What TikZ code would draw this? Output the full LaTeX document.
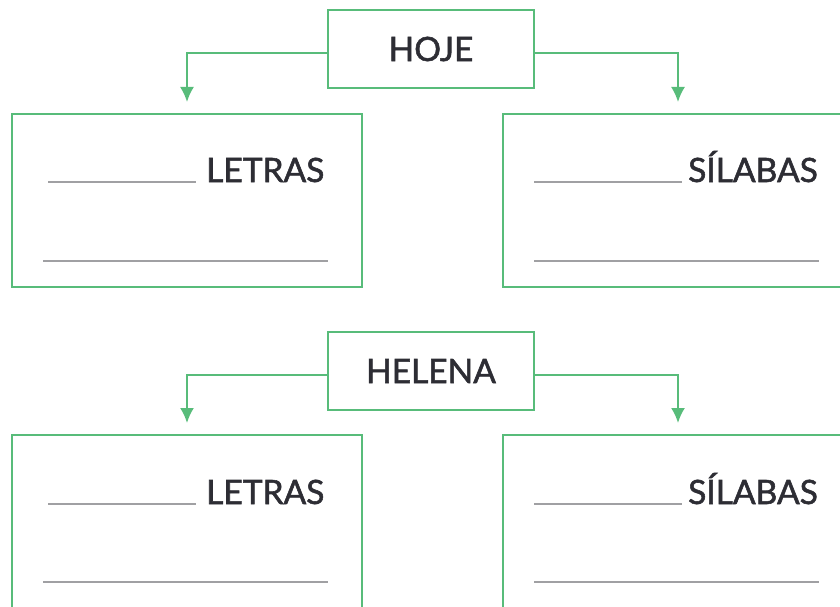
\documentclass[tikz,border=0pt]{standalone}
\usepackage{fontspec}
\setmainfont{Lato}
\newfontfamily\wordfont{Lato}[FakeBold=1.6]
\usepackage{tikz}
\usetikzlibrary{arrows.meta}
\usetikzlibrary{positioning,calc}
\definecolor{boxgreen}{RGB}{88,188,122}
\definecolor{blankgray}{RGB}{160,160,163}
\definecolor{wordgray}{RGB}{45,45,52}

\begin{document}
\begin{tikzpicture}[x=1pt, y=-1pt,
		wordbox/.style={draw=boxgreen, line width=2pt, minimum width=206pt, minimum height=78pt, inner sep=0pt, text=wordgray, font=\wordfont\fontsize{33.5}{33.5}\selectfont},
		answerbox/.style={draw=boxgreen, line width=2pt, minimum width=350pt, minimum height=173pt, inner sep=0pt},
		link/.style={draw=boxgreen, line width=2pt, -{Latex[length=15pt,width=14pt]}, shorten >=11pt},
		blank/.style={draw=blankgray, line width=2.8pt},
		unit/.style={anchor=base west, inner sep=0pt, text=wordgray, font=\wordfont\fontsize{33.5}{33.5}\selectfont}]
			\clip (0,0) rectangle (840,607);
			\useasboundingbox (0,0) rectangle (840,607);
			% first word
			\node[wordbox] (hoje) at (431,49) {HOJE};
			\node[answerbox] (hojeL) at (187,200.5) {};
			\node[answerbox] (hojeS) at (678,200.5) {};
			\draw[link] ([yshift=-4pt]hoje.west) -| (hojeL.north);
			\draw[link] ([yshift=-4pt]hoje.east) -| (hojeS.north);
			\draw[blank] ([shift={(37,69)}]hojeL.north west) -- ++(148,0);
			\node[unit] (hojeLt) at ([shift={(195,69)}]hojeL.north west) {LETRAS};
			\draw[blank] ([shift={(32,148)}]hojeL.north west) -- ++(285,0);
			\draw[blank] ([shift={(32,69)}]hojeS.north west) -- ++(148,0);
			\node[unit] (hojeSt) at ([shift={(186,69)}]hojeS.north west) {SÍLABAS};
			\draw[blank] ([shift={(32,148)}]hojeS.north west) -- ++(285,0);
			% second word
			\node[wordbox] (helena) at (431,371) {HELENA};
			\node[answerbox] (helenaL) at (187,521.5) {};
			\node[answerbox] (helenaS) at (678,521.5) {};
			\draw[link] ([yshift=-4pt]helena.west) -| (helenaL.north);
			\draw[link] ([yshift=-4pt]helena.east) -| (helenaS.north);
			\draw[blank] ([shift={(37,70)}]helenaL.north west) -- ++(148,0);
			\node[unit] (helenaLt) at ([shift={(195,70)}]helenaL.north west) {LETRAS};
			\draw[blank] ([shift={(32,148)}]helenaL.north west) -- ++(285,0);
			\draw[blank] ([shift={(32,70)}]helenaS.north west) -- ++(148,0);
			\node[unit] (helenaSt) at ([shift={(186,70)}]helenaS.north west) {SÍLABAS};
			\draw[blank] ([shift={(32,148)}]helenaS.north west) -- ++(285,0);
		\end{tikzpicture}
\end{document}
